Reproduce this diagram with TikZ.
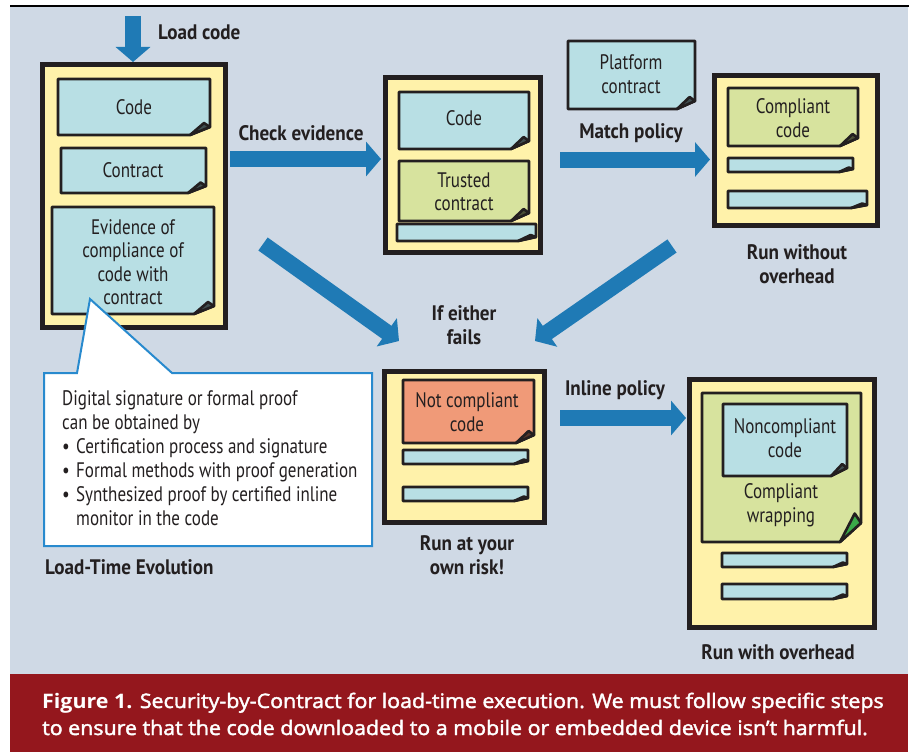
\documentclass[tikz,border=0pt]{standalone}
\usepackage{fontspec}
\setmainfont{PT Sans}[FakeStretch=0.81]
\newfontfamily\labfont{PT Sans}[FakeStretch=0.91]
\newfontfamily\capfont{Open Sans}[FakeBold=2,FakeStretch=1.07]
\newfontfamily\capboldfont{Open Sans Bold}[FakeStretch=1.07]
\usetikzlibrary{arrows.meta,calc}

\definecolor{bg}{RGB}{207,217,229}
\definecolor{paperyel}{RGB}{255,242,170}
\definecolor{docblue}{RGB}{184,223,228}
\definecolor{docgreen}{RGB}{215,227,158}
\definecolor{docred}{RGB}{240,154,120}
\definecolor{flowblue}{RGB}{31,122,181}
\definecolor{callblue}{RGB}{40,138,206}
\definecolor{capred}{RGB}{148,23,29}
\definecolor{foldgreen}{RGB}{58,170,72}
\definecolor{ink}{RGB}{35,31,32}

% sheet of paper with a folded bottom-right corner:
% x1, y1, x2, y2, fill, fold width, fold height, flap fill
\newcommand{\sheet}[8]{%
  \draw[sheetline, fill=#5] (#1,#2) -- (#3,#2) -- (#3,#4-#7) -- (#3-#6,#4) -- (#1,#4) -- cycle;
  \draw[sheetline, fill=#8] (#3-#6,#4) -- (#3,#4-#7) -- (#3-0.3*#6,#4-1.5*#7) -- cycle;
}

\begin{document}
\begin{tikzpicture}[x=1pt,y=-1pt,
  frame/.style={draw=ink, line width=5pt, fill=paperyel, inner sep=0pt},
  sheetline/.style={draw=ink, line width=2.6pt, line join=round},
  flow/.style={draw=flowblue, line width=16pt,
    -{Triangle[width=34pt,length=15pt]}},
  txt/.style={font=\fontsize{21}{23.5}\selectfont, text=ink, align=center, inner sep=0pt},
  lab/.style={font=\labfont\bfseries\fontsize{21}{24}\selectfont, text=ink, align=center, inner sep=0pt},
  captext/.style={anchor=base west, inner sep=0pt, text=white, font=\capfont\fontsize{20}{27}\selectfont}]

\useasboundingbox (0,0) rectangle (909,752);
\fill[white] (0,0) rectangle (909,752);
\fill[bg] (10,7) rectangle (908,674);
\fill[capred] (10,674) rectangle (908,752);
\draw[black, line width=2pt] (10,6) -- (909,6);

% outer frames
\node[frame, minimum width=183pt, minimum height=263pt] (A) at (134,196) {};
\node[frame, minimum width=155pt, minimum height=175pt] (B) at (463,165) {};
\node[frame, minimum width=163pt, minimum height=150pt] (C) at (796,150.5) {};
\node[frame, minimum width=160pt, minimum height=151pt] (D) at (464.5,447) {};
\node[frame, minimum width=185pt, minimum height=248pt] (E) at (782,503.5) {};

% sheets in the loaded bundle
\sheet{58}{79}{210}{135}{docblue}{20}{8}{docblue!35!black}
\sheet{61}{148}{206}{193}{docblue}{18}{7}{docblue!35!black}
\sheet{52}{207}{214}{314}{docblue}{20}{8}{docblue!35!black}
\node[txt] (acode) at (134,107) {Code};
\node[txt] (acontract) at (133,170) {Contract};
\node[txt] (aevid) at (133,262) {Evidence of\\compliance of\\code with\\contract};

% checked bundle
\sheet{399}{92}{529}{149}{docblue}{18}{8}{docblue!35!black}
\sheet{399}{161}{529}{221}{docgreen}{18}{8}{docgreen!35!black}
\sheet{397}{224}{536}{241}{docblue}{18}{4}{docblue!35!black}
\node[txt] (bcode) at (464,118) {Code};
\node[txt] (btrust) at (464,192) {Trusted\\contract};

% platform contract
\sheet{568}{41}{695}{109}{docblue}{18}{8}{docblue!35!black}
\node[txt] (plat) at (631,74) {Platform\\contract};

% compliant code
\sheet{728}{88}{858}{146}{docgreen}{18}{8}{docgreen!35!black}
\sheet{728}{158}{853}{172}{docblue}{14}{3}{docblue!35!black}
\sheet{728}{191}{867}{208}{docblue}{16}{3}{docblue!35!black}
\node[txt] (ccode) at (793,118) {Compliant\\code};

% not compliant code
\sheet{403}{380}{534}{443}{docred}{18}{8}{docred!35!black}
\sheet{403}{450}{528}{464}{docblue}{14}{3}{docblue!35!black}
\sheet{403}{487}{528}{501}{docblue}{14}{3}{docblue!35!black}
\node[txt] (dcode) at (467,412) {Not compliant\\code};

% wrapped code
\sheet{702}{393}{861}{542}{docgreen}{21}{19}{foldgreen}
\sheet{723}{404}{847}{476}{docblue}{16}{8}{docblue!35!black}
\sheet{722}{553}{847}{567}{docblue}{14}{3}{docblue!35!black}
\sheet{722}{584}{847}{599}{docblue}{14}{3}{docblue!35!black}
\node[txt] (enon) at (785,438) {Noncompliant\\code};
\node[txt] (ewrap) at (781,505) {Compliant\\wrapping};

% flow arrows
\coordinate (lc) at (133,16);
\coordinate (ce0) at (230,159);
\coordinate (ce1) at (381,159);
\coordinate (mp0) at (560,159.5);
\coordinate (mp1) at (710,159.5);
\coordinate (fl0) at (263,244);
\coordinate (fl1) at (399,341);
\coordinate (fr0) at (672,246);
\coordinate (fr1) at (535,341);
\coordinate (ip0) at (560,418);
\coordinate (ip1) at (686,418);
\draw[flow] (lc) -- (lc |- A.north);
\draw[flow] (ce0) -- (ce1);
\draw[flow] (mp0) -- (mp1);
\draw[flow] (fl0) -- (fl1);
\draw[flow] (fr0) -- (fr1);
\draw[flow] (ip0) -- (ip1);

% labels
\node[lab, anchor=west] (lload) at (158,32) {Load code};
\node[lab] (lcheck) at (301,133) {Check evidence};
\node[lab] (lmatch) at (631,133) {Match policy};
\node[lab] (lfail) at (464,325) {If either\\fails};
\node[lab] (linline) at (615,390) {Inline policy};
\node[lab] (lrunc) at (797,264) {Run without\\overhead};
\node[lab] (lrund) at (467,555) {Run at your\\own risk!};
\node[lab] (lrune) at (778,652) {Run with overhead};
\node[lab, anchor=west] (lphase) at (45,567) {Load-Time Evolution};

% callout attached to the evidence sheet
\draw[callblue, line width=2pt, fill=white, line join=miter]
  (44,373) -- (77,373) -- (90,299) -- (172,373) -- (372,373) -- (372,546) -- (44,546) -- cycle;
\node[txt, align=left, anchor=north west, font=\fontsize{21}{24}\selectfont] (note) at (62,390)
  {Digital signature or formal proof\\
   can be obtained by\\
   \makebox[14pt][l]{•}Certification process and signature\\
   \makebox[14pt][l]{•}Formal methods with proof generation\\
   \makebox[14pt][l]{•}Synthesized proof by certified inline\\
   \hspace*{14pt}monitor in the code};

% caption
\node[captext] (cap1) at (42,708)
  {{\capboldfont Figure 1.} Security-by-Contract for load-time execution. We must follow specific steps};
\node[captext] (cap2) at (42,735)
  {to ensure that the code downloaded to a mobile or embedded device isn’t harmful.};
\end{tikzpicture}
\end{document}
